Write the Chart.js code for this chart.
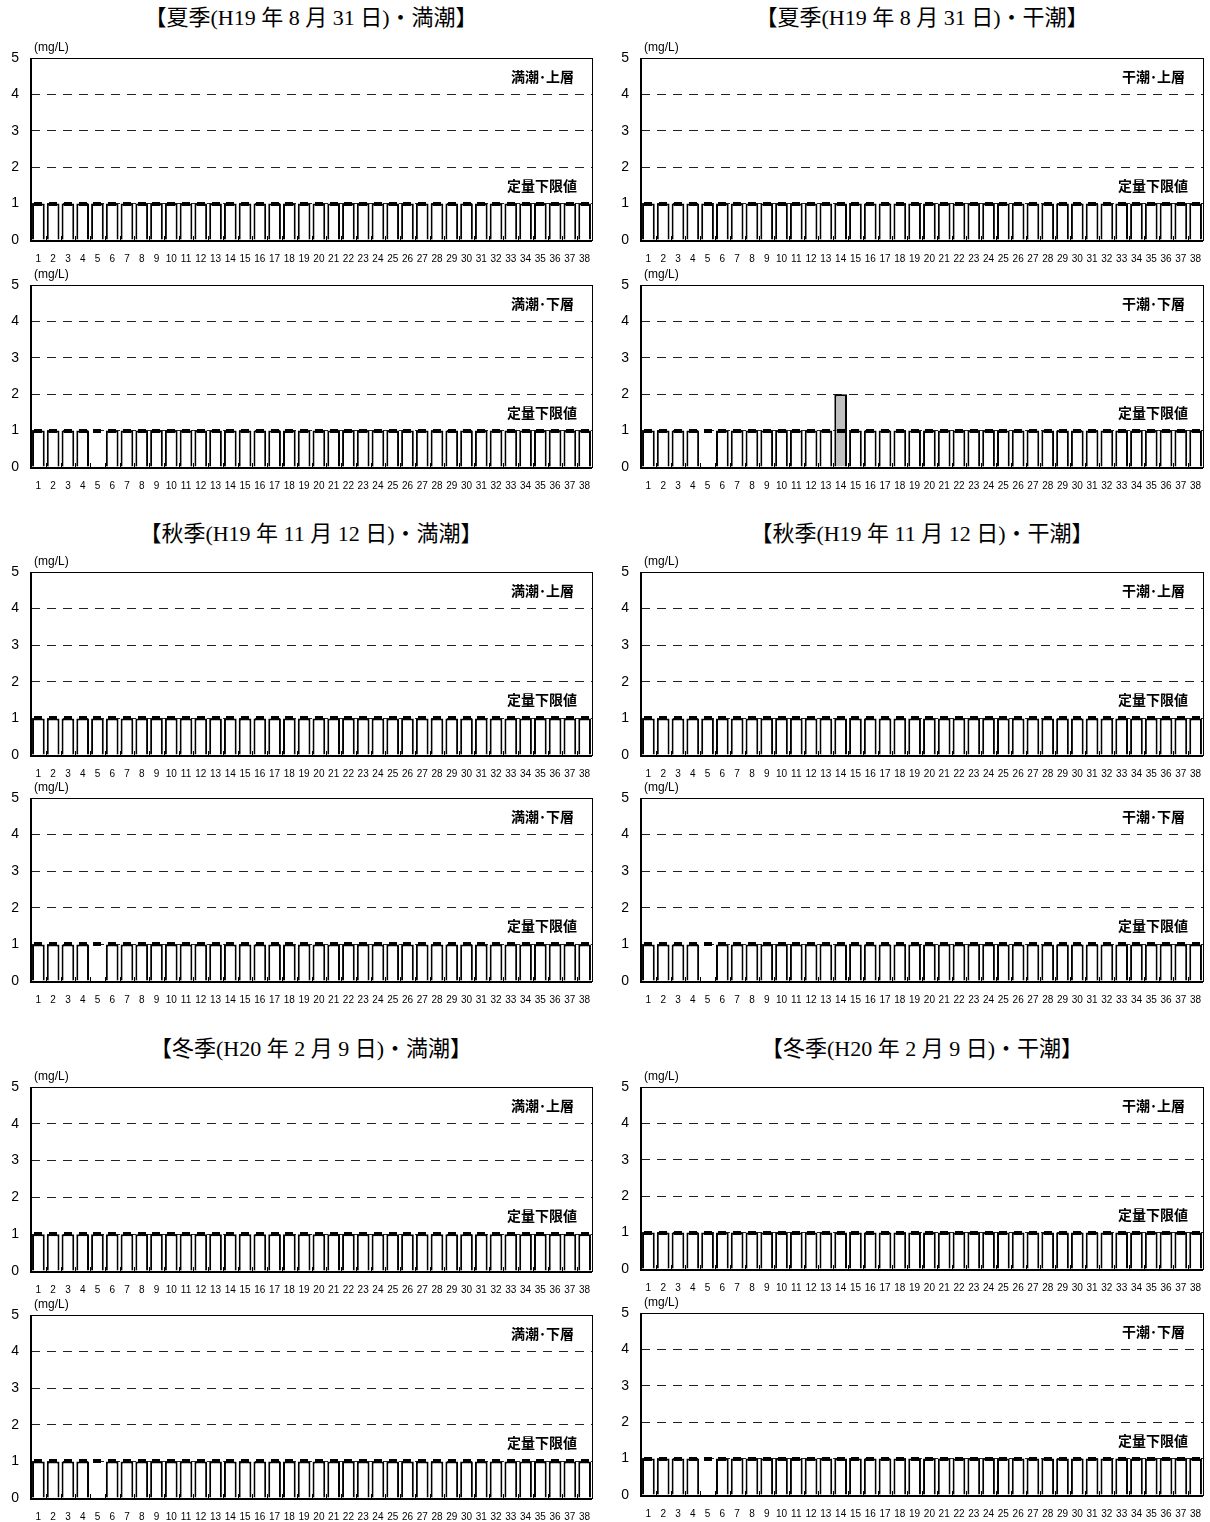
<!DOCTYPE html>
<html>
<head>
<meta charset="utf-8">
<script src="https://cdn.jsdelivr.net/npm/chart.js@4.4.1/dist/chart.umd.min.js"></script>
<style>
  body { margin: 0; background: #fff; width: 1210px; height: 1522px; position: relative; overflow: hidden; }
  canvas { position: absolute; }
  .title {
    position: absolute;
    font-family: "Liberation Serif", "Noto Sans CJK JP", serif;
    font-size: 22px;
    white-space: nowrap;
    transform: translateX(-50%);
    line-height: 1;
  }
</style>
</head>
<body>
<script>
// stations 1..38
const stations = ["1","2","3","4","5","6","7","8","9","10","11","12","13","14","15","16","17","18","19",
  "20","21","22","23","24","25","26","27","28","29","30","31","32","33","34","35","36","37","38"];

// quantification limit (定量下限値), mg/L
const limitValues = [1,1,1,1,1,1,1,1,1,1,1,1,1,1,1,1,1,1,1,1,1,1,1,1,1,1,1,1,1,1,1,1,1,1,1,1,1,1];

// upper layer: every station at the limit
const upperLayer = [1,1,1,1,1,1,1,1,1,1,1,1,1,1,1,1,1,1,1,1,1,1,1,1,1,1,1,1,1,1,1,1,1,1,1,1,1,1];

// lower layer: station 5 not sampled
const lowerLayer = [1,1,1,1,null,1,1,1,1,1,1,1,1,1,1,1,1,1,1,1,1,1,1,1,1,1,1,1,1,1,1,1,1,1,1,1,1,1];

// summer ebb tide lower layer: station 14 at 2 mg/L
const summerEbbLower = [1,1,1,1,null,1,1,1,1,1,1,1,1,2,1,1,1,1,1,1,1,1,1,1,1,1,1,1,1,1,1,1,1,1,1,1,1,1];

const yTicks = [0,1,2,3,4,5];

const titles = [
  { text: "【夏季(H19 年 8 月 31 日)・満潮】", x: 311, y: 7 },
  { text: "【夏季(H19 年 8 月 31 日)・干潮】", x: 922, y: 7 },
  { text: "【秋季(H19 年 11 月 12 日)・満潮】", x: 311, y: 523 },
  { text: "【秋季(H19 年 11 月 12 日)・干潮】", x: 922, y: 523 },
  { text: "【冬季(H20 年 2 月 9 日)・満潮】", x: 311, y: 1038 },
  { text: "【冬季(H20 年 2 月 9 日)・干潮】", x: 922, y: 1038 }
];

const panels = [
  { x: 31,  y: 58,   w: 561, h: 182, values: upperLayer,     tag: "満潮･上層" },
  { x: 31,  y: 285,  w: 561, h: 182, values: lowerLayer,     tag: "満潮･下層" },
  { x: 641, y: 58,   w: 562, h: 182, values: upperLayer,     tag: "干潮･上層" },
  { x: 641, y: 285,  w: 562, h: 182, values: summerEbbLower, tag: "干潮･下層" },
  { x: 31,  y: 572,  w: 561, h: 183, values: upperLayer,     tag: "満潮･上層" },
  { x: 31,  y: 798,  w: 561, h: 183, values: lowerLayer,     tag: "満潮･下層" },
  { x: 641, y: 572,  w: 562, h: 183, values: upperLayer,     tag: "干潮･上層" },
  { x: 641, y: 798,  w: 562, h: 183, values: lowerLayer,     tag: "干潮･下層" },
  { x: 31,  y: 1087, w: 561, h: 184, values: upperLayer,     tag: "満潮･上層" },
  { x: 31,  y: 1315, w: 561, h: 183, values: lowerLayer,     tag: "満潮･下層" },
  { x: 641, y: 1087, w: 562, h: 182, values: upperLayer,     tag: "干潮･上層" },
  { x: 641, y: 1313, w: 562, h: 182, values: lowerLayer,     tag: "干潮･下層" }
];

const PAD_L = 31, PAD_T = 22, PAD_R = 6, PAD_B = 22;

titles.forEach(t => {
  const d = document.createElement("div");
  d.className = "title";
  d.textContent = t.text;
  d.style.left = t.x + "px";
  d.style.top = t.y + "px";
  document.body.appendChild(d);
});

// small black dash used as the limit marker
const marker = document.createElement("canvas");
marker.width = 8;
marker.height = 4;
const mctx = marker.getContext("2d");
mctx.fillStyle = "#000";
mctx.fillRect(0, 0, 8, 4);

const framePlugin = {
  id: "frame",
  afterDatasetsDraw(chart, args, opts) {
    const { ctx, chartArea: a, scales } = chart;
    const xs = scales.x, ys = scales.y;
    ctx.save();
    // inward ticks at category boundaries
    ctx.strokeStyle = "#000";
    ctx.lineWidth = 1;
    const step = xs.getPixelForValue(1) - xs.getPixelForValue(0);
    for (let i = 0; i <= stations.length; i++) {
      const px = Math.round(xs.getPixelForValue(i) - step / 2) + 0.5;
      ctx.beginPath();
      ctx.moveTo(px, a.bottom);
      ctx.lineTo(px, a.bottom - 4);
      ctx.stroke();
    }
    // box
    ctx.strokeRect(Math.round(a.left) + 0.5, Math.round(a.top) + 0.5, Math.round(a.right - a.left), Math.round(a.bottom - a.top));
    ctx.lineWidth = 2;
    ctx.beginPath();
    ctx.moveTo(a.left, a.top);
    ctx.lineTo(a.left, a.bottom + 1);
    ctx.lineTo(a.right, a.bottom + 1);
    ctx.stroke();
    // unit
    ctx.fillStyle = "#000";
    ctx.font = "12px 'Liberation Sans', sans-serif";
    ctx.textAlign = "left";
    ctx.textBaseline = "middle";
    ctx.fillText("(mg/L)", a.left + 3, a.top - 10);
    // labels in plot
    ctx.font = "bold 14px 'Noto Sans CJK JP', sans-serif";
    ctx.textAlign = "right";
    ctx.fillText(opts.tag, a.right - 18, ys.getPixelForValue(4.5));
    ctx.fillText("定量下限値", a.right - 15, ys.getPixelForValue(1.5));
    ctx.restore();
  }
};

panels.forEach(p => {
  const c = document.createElement("canvas");
  c.width = p.w + PAD_L + PAD_R;
  c.height = p.h + PAD_T + PAD_B;
  c.style.left = (p.x - PAD_L) + "px";
  c.style.top = (p.y - PAD_T) + "px";
  document.body.appendChild(c);

  new Chart(c, {
    data: {
      labels: stations,
      datasets: [
        {
          type: "line",
          data: limitValues,
          showLine: false,
          pointStyle: marker,
          pointRadius: 4,
          order: 0
        },
        {
          type: "bar",
          data: p.values,
          backgroundColor: p.values.map(v => v > 1 ? "#c0c0c0" : "#ffffff"),
          borderColor: "#000",
          borderWidth: 2,
          borderSkipped: "bottom",
          categoryPercentage: 0.86,
          barPercentage: 1,
          order: 1
        }
      ]
    },
    options: {
      responsive: false,
      animation: false,
      layout: { padding: { top: PAD_T, right: PAD_R, left: 0, bottom: 0 } },
      plugins: {
        legend: { display: false },
        tooltip: { enabled: false },
        frame: { tag: p.tag }
      },
      scales: {
        x: {
          grid: { display: false },
          border: { display: false },
          ticks: {
            autoSkip: false,
            maxRotation: 0,
            minRotation: 0,
            padding: 5,
            color: "#000",
            font: { family: "'Liberation Sans', sans-serif", size: 10 }
          },
          afterFit: s => { s.height = PAD_B; }
        },
        y: {
          min: 0,
          max: 5,
          afterBuildTicks: s => { s.ticks = yTicks.map(v => ({ value: v })); },
          grid: {
            drawTicks: false,
            lineWidth: 1,
            color: ctx => (ctx.tick && ctx.tick.value > 0 && ctx.tick.value < 5) ? "#222" : "rgba(0,0,0,0)"
          },
          border: { display: false, dash: [9, 7] },
          ticks: {
            padding: 12,
            color: "#000",
            font: { family: "'Liberation Sans', sans-serif", size: 14 }
          },
          afterFit: s => { s.width = PAD_L; }
        }
      }
    },
    plugins: [framePlugin]
  });
});
</script>
</body>
</html>
